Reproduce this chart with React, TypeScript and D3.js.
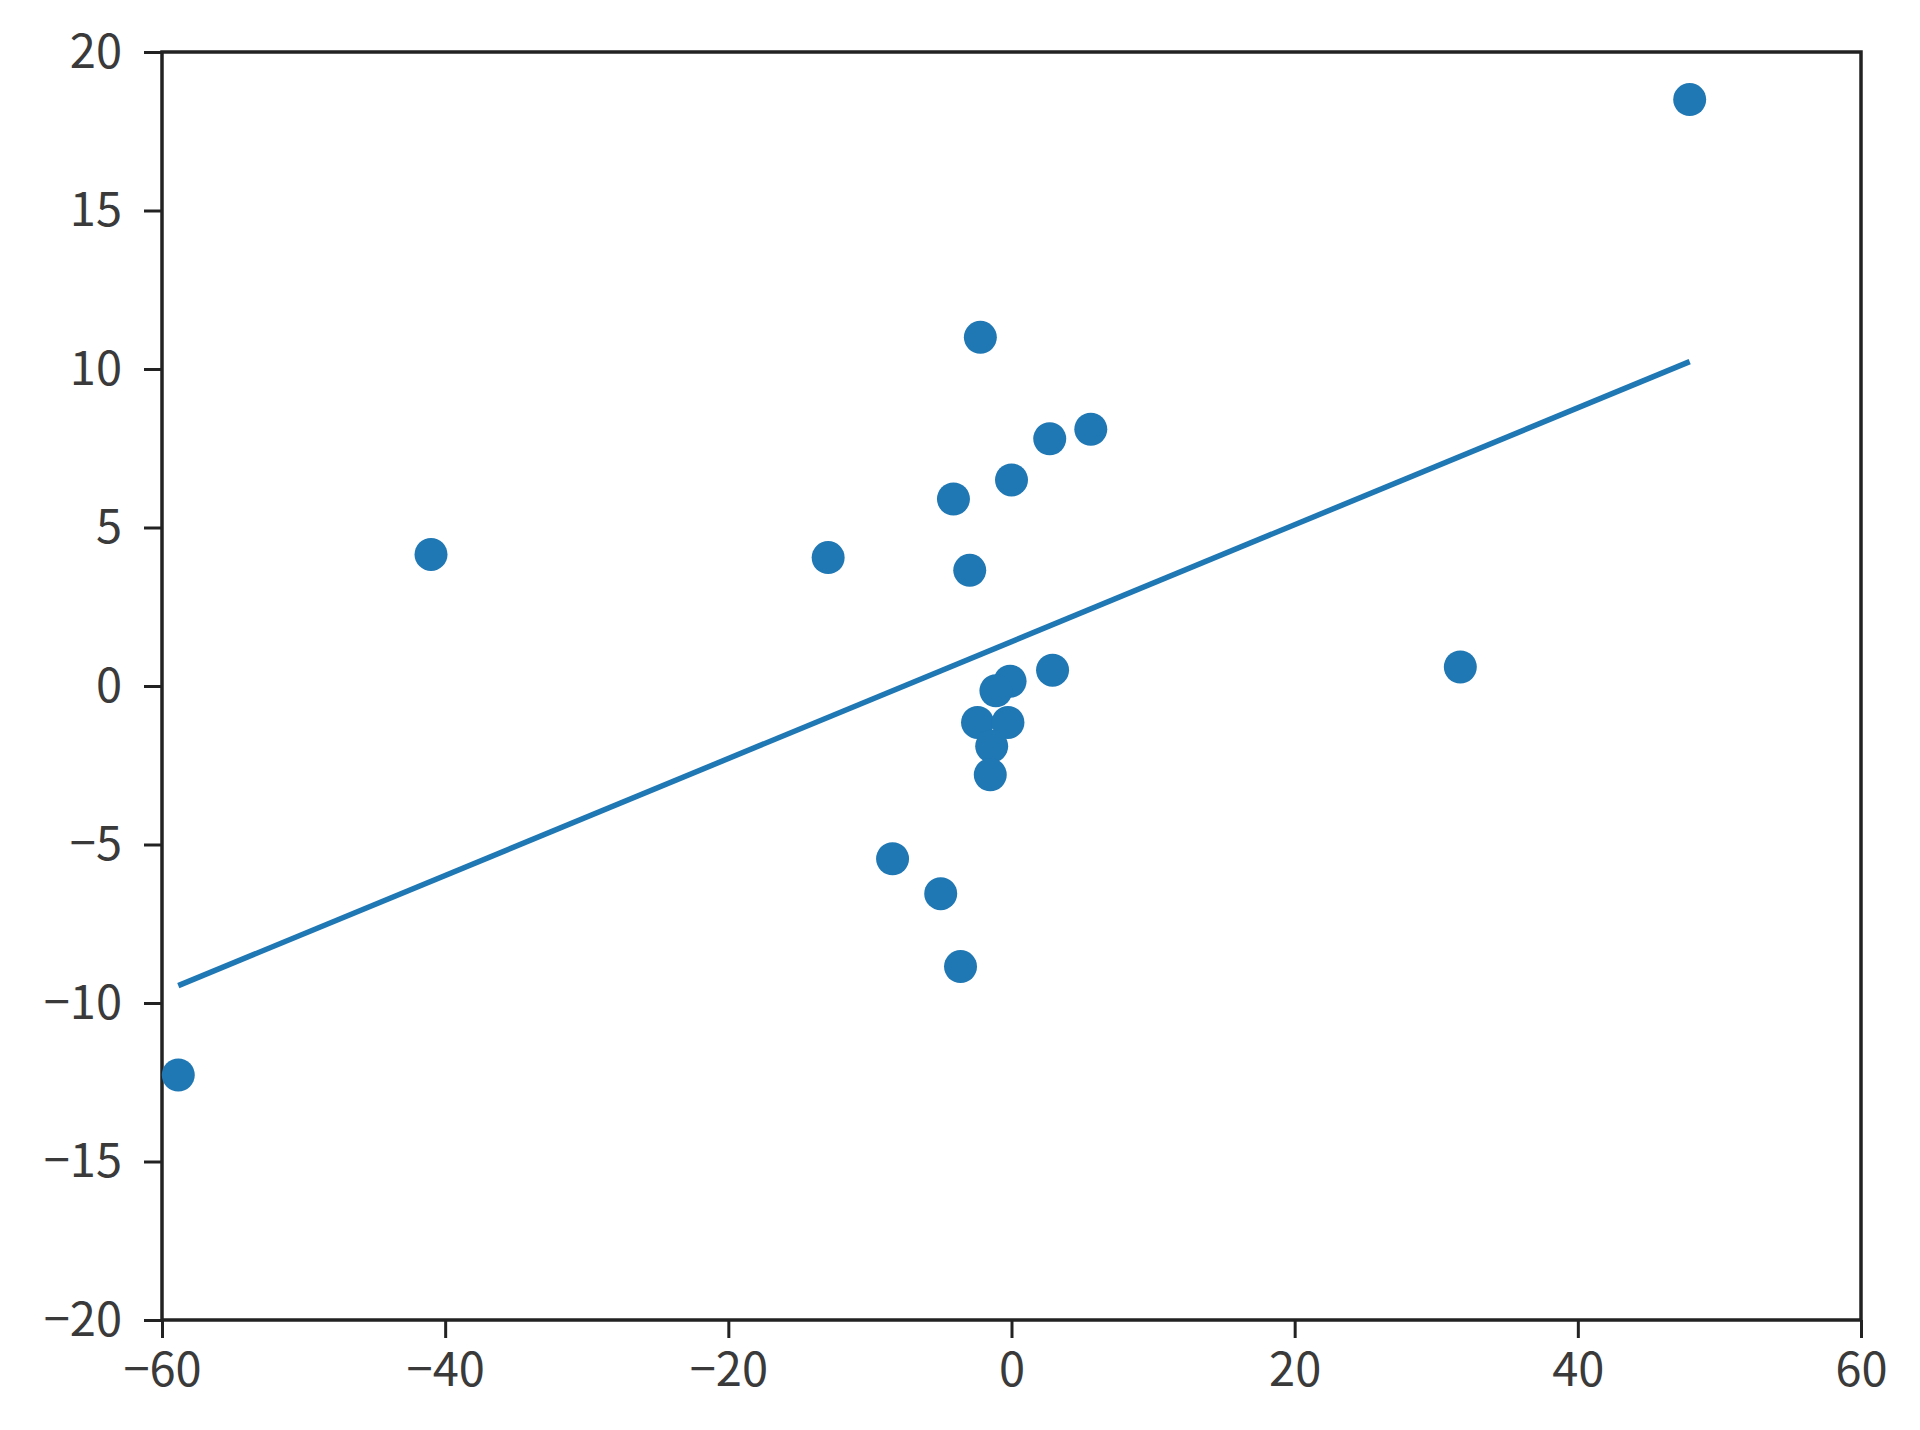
import * as d3 from 'd3';
import { useEffect, useRef } from 'react';

// scatter values
const xValues = [
  47.9, -2.2, 5.6, 2.7, 0.0, -4.1, -41.0, -12.95, -2.95, 2.9, 31.7, -0.1, -1.1, -2.4, -0.25, -1.4, -1.5, -8.4,
  -5.0, -3.6, -58.85,
];
const yValues = [
  18.5, 11.0, 8.1, 7.8, 6.5, 5.9, 4.15, 4.05, 3.65, 0.5, 0.6, 0.15, -0.15, -1.15, -1.15, -1.9, -2.8, -5.45, -6.55,
  -8.85, -12.27,
];

// fitted line
const fitSlope = 0.1844;
const fitIntercept = 1.4;

const xTicks = [-60, -40, -20, 0, 20, 40, 60];
const yTicks = [-20, -15, -10, -5, 0, 5, 10, 15, 20];

const W = 1920;
const H = 1430;

export default function App() {
  const ref = useRef<SVGSVGElement>(null);

  useEffect(() => {
    document.body.style.margin = '0';
    const margin = { top: 52, right: 59, bottom: 110, left: 162 };
    const width = W - margin.left - margin.right;
    const height = H - margin.top - margin.bottom;

    const x = d3.scaleLinear().domain([-60, 60]).range([0, width]);
    const y = d3.scaleLinear().domain([-20, 20]).range([height, 0]);

    const svg = d3.select(ref.current);
    svg.selectAll('*').remove();
    const g = svg.append('g').attr('transform', `translate(${margin.left},${margin.top})`);

    const font = '"Noto Sans CJK JP", "Noto Sans", sans-serif';

    //x axis
    g.append('g')
      .attr('transform', `translate(0,${height})`)
      .call(d3.axisBottom(x).tickValues(xTicks).tickSizeInner(18).tickSizeOuter(0).tickPadding(15))
      .call((a) => {
        a.select('.domain').remove();
        a.selectAll('.tick line').attr('stroke', '#222').attr('stroke-width', 3);
        a.selectAll('.tick text').attr('fill', '#3a3a3a').style('font-size', '47px').style('font-family', font);
      });

    //y axis
    g.append('g')
      .call(d3.axisLeft(y).tickValues(yTicks).tickSizeInner(18).tickSizeOuter(0).tickPadding(22))
      .call((a) => {
        a.select('.domain').remove();
        a.selectAll('.tick line').attr('stroke', '#222').attr('stroke-width', 3);
        a.selectAll('.tick text').attr('fill', '#3a3a3a').style('font-size', '47px').style('font-family', font);
      });

    //frame
    g.append('rect')
      .attr('width', width)
      .attr('height', height)
      .attr('fill', 'none')
      .attr('stroke', '#222')
      .attr('stroke-width', 3.5);

    //points
    const pts = xValues.map((v, i) => ({ x: v, y: yValues[i] }));
    g.selectAll('circle')
      .data(pts)
      .enter()
      .append('circle')
      .attr('cx', (d) => x(d.x))
      .attr('cy', (d) => y(d.y))
      .attr('r', 16.5)
      .attr('fill', '#1f77b4');

    //fit line
    const [x0, x1] = d3.extent(xValues) as [number, number];
    const line = d3
      .line<number>()
      .x((d) => x(d))
      .y((d) => y(fitSlope * d + fitIntercept));
    g.append('path')
      .datum([x0, x1])
      .attr('fill', 'none')
      .attr('stroke', '#1f77b4')
      .attr('stroke-width', 5.5)
      .attr('d', line);
  }, []);

  return <svg ref={ref} width={W} height={H} style={{ display: 'block', background: '#fff' }} />;
}
